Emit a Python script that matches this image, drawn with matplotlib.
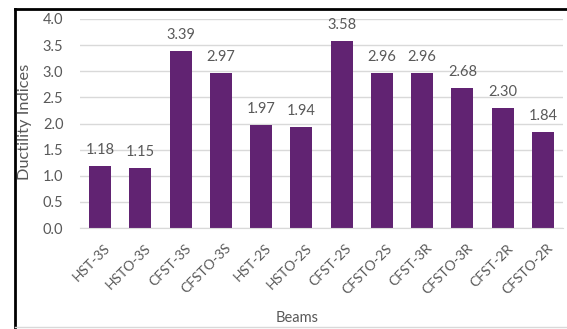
import matplotlib
matplotlib.use("Agg")
import matplotlib.pyplot as plt
from matplotlib.lines import Line2D
from matplotlib.transforms import ScaledTranslation

beams = ["HST-3S", "HSTO-3S", "CFST-3S", "CFSTO-3S", "HST-2S", "HSTO-2S",
         "CFST-2S", "CFSTO-2S", "CFST-3R", "CFSTO-3R", "CFST-2R", "CFSTO-2R"]
ductility = [1.18, 1.15, 3.39, 2.97, 1.97, 1.94, 3.58, 2.96, 2.96, 2.68, 2.30, 1.84]
y_ticks = [0.0, 0.5, 1.0, 1.5, 2.0, 2.5, 3.0, 3.5, 4.0]

plt.rcParams["font.family"] = ["Lato", "DejaVu Sans"]
text_color = "#595959"
bar_color = "#612372"
grid_color = "#D9D9D9"

W, H = 567, 329
fig = plt.figure(figsize=(W / 100, H / 100), dpi=100)
ax = fig.add_axes([80 / W, 1 - 228 / H, (563 - 80) / W, (228 - 19) / H])

x = list(range(len(beams)))
bars = ax.bar(x, ductility, width=0.55, color=bar_color, zorder=3)
for rect, v in zip(bars, ductility):
    ax.annotate(f"{v:.2f}", (rect.get_x() + rect.get_width() / 2, v),
                xytext=(0, 11.5), textcoords="offset points",
                ha="center", va="center", fontsize=10.5, color=text_color)

ax.set_xlim(-0.5, len(beams) - 0.5)
ax.set_ylim(0, 4.0)
ax.set_yticks(y_ticks)
ax.set_yticklabels([f"{t:.1f}" for t in y_ticks], fontsize=10.5, color=text_color)
ax.set_xticks(x)
ax.set_xticklabels(beams, rotation=45, ha="right", rotation_mode="anchor",
                   fontsize=10, color=text_color)
ax.tick_params(length=0)
ax.tick_params(axis="x", pad=10)
ax.tick_params(axis="y", pad=12)
shift = ScaledTranslation(4 / 100, 0, fig.dpi_scale_trans)
for lbl in ax.get_xticklabels():
    lbl.set_transform(lbl.get_transform() + shift)
ax.yaxis.grid(True, color=grid_color, linewidth=1, zorder=0)
for side in ("top", "right", "left"):
    ax.spines[side].set_visible(False)
ax.spines["bottom"].set_color(grid_color)
ax.spines["bottom"].set_zorder(4)

fig.text(25 / W, 1 - 121.5 / H, "Ductility Indices", rotation=90,
         ha="center", va="center", fontsize=11.8, color=text_color)
fig.text(297 / W, 1 - 318 / H, "Beams", ha="center", va="center",
         fontsize=10.5, color=text_color)

# chart frame: dark top and left edges, light bottom edge
fig.add_artist(Line2D([15 / W, 1], [1 - 8.5 / H, 1 - 8.5 / H], color="black", linewidth=2))
fig.add_artist(Line2D([15 / W, 15 / W], [0, 1 - 8.5 / H], color="black", linewidth=2))
fig.add_artist(Line2D([15 / W, 1], [1 - 327 / H, 1 - 327 / H], color=grid_color, linewidth=1))

fig.savefig("out.png", dpi=100)
